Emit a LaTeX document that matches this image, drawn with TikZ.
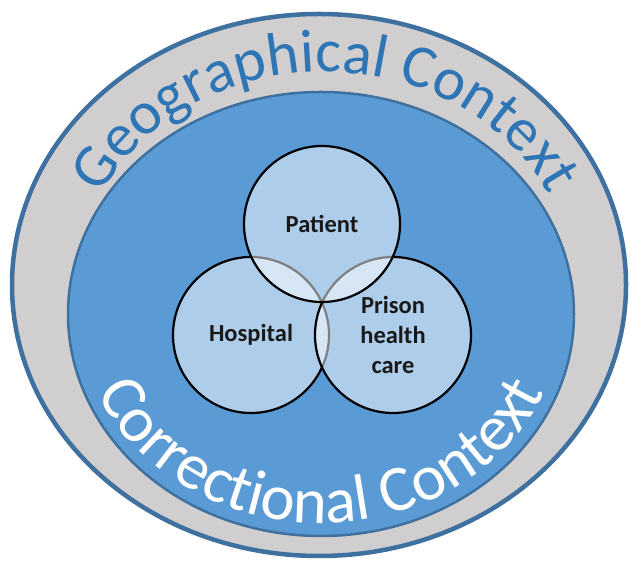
\documentclass[tikz,border=0pt]{standalone}
\usepackage{fontspec}
\setmainfont{Carlito}
\usetikzlibrary{positioning,decorations.text}
\definecolor{ringgray}{RGB}{208,206,206}
\definecolor{ringedge}{RGB}{62,112,160}
\definecolor{innerblue}{RGB}{91,155,213}
\definecolor{geoblue}{RGB}{46,117,182}
\tikzset{set node/.style={circle,draw=black,line width=2.2pt,fill=white,fill opacity=.5,draw opacity=1,text opacity=1,
            minimum size=156pt,inner sep=0pt,align=center,font=\bfseries\fontsize{24.5}{30}\selectfont,text=black!90},
            }

\begin{document}
\begin{tikzpicture}[x=1pt,y=1pt,node distance=142pt,on grid]
    \useasboundingbox (0,0) rectangle (631,561);

    % outer ring and inner field
    \filldraw[fill=ringgray,draw=ringedge,line width=4.5pt] (319,276) ellipse [x radius=307pt,y radius=271pt];
    \filldraw[fill=innerblue,draw=ringedge,line width=2.5pt] (321,247) ellipse [x radius=253pt,y radius=222pt];

    % arc labels
    \path[decorate,decoration={text along path,text align=center,
        text={|\fontsize{61}{61}\selectfont\color{geoblue}|Geographical Context}}]
        (78,276) arc[start angle=180,end angle=0,x radius=247pt,y radius=213pt];
    \path[decorate,decoration={text along path,text align=center,
        text={|\fontsize{65}{65}\selectfont\color{white}|Correctional Context}}]
        (80,247) arc[start angle=180,end angle=360,x radius=241pt,y radius=209pt];

    \node[set node] (hosp) at (251,226) {Hospital};
    \node[set node] (prison) [right=of hosp] {Prison\\health\\care};
    \node[set node] (patient) [above right=111pt and 71pt of hosp] {Patient};

\end{tikzpicture}
\end{document}
